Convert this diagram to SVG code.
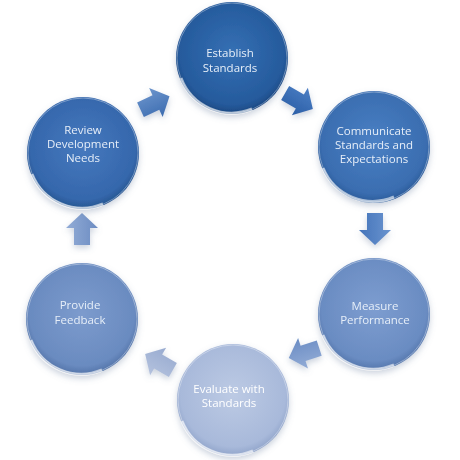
<svg xmlns="http://www.w3.org/2000/svg" width="460" height="460" viewBox="0 0 460 460">
<defs>
<style>
.lbl{font-family:"Open Sans","Liberation Sans",sans-serif;font-size:11.5px;fill:#e6eef8;text-anchor:middle}
.rim{fill:none;stroke:#ffffff;stroke-width:3;stroke-opacity:0.6}
.edge{fill:none;stroke:#ffffff;stroke-width:1;stroke-opacity:0.35}
</style>
<filter id="sh" x="-30%" y="-30%" width="160%" height="160%">
<feDropShadow dx="0" dy="3" stdDeviation="3" flood-color="#6a7fa0" flood-opacity="0.35"/>
</filter>
<radialGradient id="g1" cx="50%" cy="45%" r="55%"><stop offset="0" stop-color="#3570b4"/><stop offset="0.85" stop-color="#255a9c"/><stop offset="1" stop-color="#1b4780"/></radialGradient>
<radialGradient id="g2" cx="50%" cy="45%" r="55%"><stop offset="0" stop-color="#4a80c4"/><stop offset="0.85" stop-color="#3a6db0"/><stop offset="1" stop-color="#2a5a98"/></radialGradient>
<radialGradient id="g3" cx="50%" cy="45%" r="55%"><stop offset="0" stop-color="#7d9dd0"/><stop offset="0.85" stop-color="#6a8cc2"/><stop offset="1" stop-color="#5476ac"/></radialGradient>
<radialGradient id="g4" cx="50%" cy="45%" r="55%"><stop offset="0" stop-color="#bccae4"/><stop offset="0.85" stop-color="#a8b9da"/><stop offset="1" stop-color="#90a4ca"/></radialGradient>
<radialGradient id="g5" cx="50%" cy="45%" r="55%"><stop offset="0" stop-color="#7c9bcd"/><stop offset="0.85" stop-color="#6a8bc0"/><stop offset="1" stop-color="#5273a8"/></radialGradient>
<radialGradient id="g6" cx="50%" cy="45%" r="55%"><stop offset="0" stop-color="#4679be"/><stop offset="0.85" stop-color="#3567ac"/><stop offset="1" stop-color="#25558f"/></radialGradient>
<linearGradient id="a1" x1="0" y1="0" x2="0" y2="1"><stop offset="0" stop-color="#6b94cc"/><stop offset="1" stop-color="#3c6cb0"/></linearGradient>
<linearGradient id="a2" x1="0" y1="0" x2="0" y2="1"><stop offset="0" stop-color="#4b7ec4"/><stop offset="1" stop-color="#2a5ea6"/></linearGradient>
<linearGradient id="a3" x1="0" y1="0" x2="0" y2="1"><stop offset="0" stop-color="#6a94cf"/><stop offset="1" stop-color="#4474ba"/></linearGradient>
<linearGradient id="a4" x1="0" y1="0" x2="0" y2="1"><stop offset="0" stop-color="#93acd6"/><stop offset="1" stop-color="#6a8cc4"/></linearGradient>
<linearGradient id="a5" x1="0" y1="0" x2="0" y2="1"><stop offset="0" stop-color="#b4c2de"/><stop offset="1" stop-color="#98abd0"/></linearGradient>
<linearGradient id="a6" x1="0" y1="0" x2="0" y2="1"><stop offset="0" stop-color="#92acd6"/><stop offset="1" stop-color="#6c8cc2"/></linearGradient>
<path id="arr" d="M-16,-8 L1,-8 L1,-16 L16,0 L1,16 L1,8 L-16,8 Z"/>
</defs>
<rect width="460" height="460" fill="#ffffff"/>

<g id="connectors" filter="url(#sh)">
<use href="#arr" fill="url(#a1)" transform="translate(155,103) rotate(-25)"/>
<use href="#arr" fill="url(#a2)" transform="translate(299,101) rotate(30)"/>
<use href="#arr" fill="url(#a3)" transform="translate(375,229) rotate(90)"/>
<use href="#arr" fill="url(#a4)" transform="translate(304,353) rotate(162)"/>
<use href="#arr" fill="url(#a5)" transform="translate(159,362) rotate(210)"/>
<use href="#arr" fill="url(#a6)" transform="translate(82,229) rotate(-90)"/>
</g>

<g id="establish" filter="url(#sh)">
<circle cx="232" cy="58" r="56" fill="url(#g1)"/>
<path class="rim" d="M181,78 A54,54 0 0 0 252,109"/>
<circle class="edge" cx="232" cy="58" r="55"/>
<text class="lbl" x="230" y="57">Establish</text>
<text class="lbl" x="230" y="72">Standards</text>
</g>

<g id="communicate" filter="url(#sh)">
<circle cx="374" cy="147" r="56" fill="url(#g2)"/>
<path class="rim" d="M323,168 A54,54 0 0 0 394,197"/>
<circle class="edge" cx="374" cy="147" r="55"/>
<text class="lbl" x="374" y="135">Communicate</text>
<text class="lbl" x="374" y="149">Standards and</text>
<text class="lbl" x="374" y="163">Expectations</text>
</g>

<g id="measure" filter="url(#sh)">
<circle cx="374" cy="314" r="56" fill="url(#g3)"/>
<path class="rim" d="M323,335 A54,54 0 0 0 394,365"/>
<circle class="edge" cx="374" cy="314" r="55"/>
<text class="lbl" x="375" y="310">Measure</text>
<text class="lbl" x="375" y="324">Performance</text>
</g>

<g id="evaluate" filter="url(#sh)">
<circle cx="233" cy="400" r="56" fill="url(#g4)"/>
<path class="rim" d="M182,421 A54,54 0 0 0 253,451"/>
<circle class="edge" cx="233" cy="400" r="55"/>
<text class="lbl" x="229" y="393" style="fill:#ffffff">Evaluate with</text>
<text class="lbl" x="229" y="407" style="fill:#ffffff">Standards</text>
</g>

<g id="feedback" filter="url(#sh)">
<circle cx="82" cy="319" r="56" fill="url(#g5)"/>
<path class="rim" d="M31,340 A54,54 0 0 0 102,370"/>
<circle class="edge" cx="82" cy="319" r="55"/>
<text class="lbl" x="80" y="309">Provide</text>
<text class="lbl" x="80" y="324">Feedback</text>
</g>

<g id="review" filter="url(#sh)">
<circle cx="83" cy="153" r="56" fill="url(#g6)"/>
<path class="rim" d="M32,174 A54,54 0 0 0 103,204"/>
<circle class="edge" cx="83" cy="153" r="55"/>
<text class="lbl" x="83" y="134">Review</text>
<text class="lbl" x="83" y="148">Development</text>
<text class="lbl" x="83" y="162">Needs</text>
</g>
</svg>
